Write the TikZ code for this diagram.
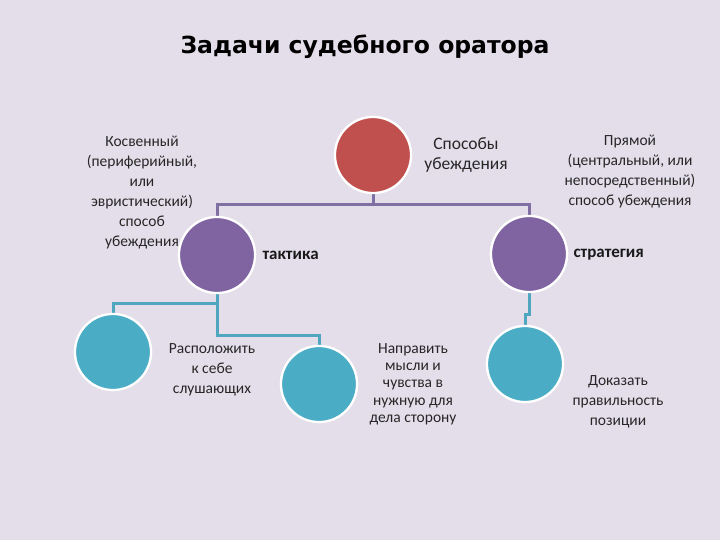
\documentclass[tikz,border=0pt]{standalone}
\usepackage{fontspec}
\setmainfont{Carlito}
\newfontfamily\titlefont{DejaVu Sans}
\definecolor{bgc}{HTML}{E4DEEA}
\definecolor{redc}{HTML}{C0504D}
\definecolor{purc}{HTML}{8064A2}
\definecolor{teac}{HTML}{4BACC6}
\definecolor{linep}{HTML}{7F6FA3}
\definecolor{linet}{HTML}{4FA6BF}
\begin{document}
\begin{tikzpicture}[x=1pt,y=-1pt,
  ball/.style={circle,draw=white,line width=2.2pt,minimum size=76pt,inner sep=0pt},
  conP/.style={draw=linep,line width=3pt},
  conT/.style={draw=linet,line width=3pt},
  txt/.style={align=center,font=\fontsize{15.5}{20}\selectfont,text=black!85},
  btxt/.style={font=\fontsize{17}{20}\selectfont\bfseries,text=black!90}]
\fill[bgc] (0,0) rectangle (720,540);
\useasboundingbox (0,0) rectangle (720,540);
\node[font=\titlefont\bfseries\fontsize{23.5}{28}\selectfont] (title) at (365,47) {Задачи судебного оратора};
% nodes
\node[ball,fill=redc] (r) at (373,155) {};
\node[ball,fill=purc] (tk) at (217,255) {};
\node[ball,fill=purc] (st) at (529,254) {};
\node[ball,fill=teac] (c1) at (113,352) {};
\node[ball,fill=teac] (c2) at (319,384) {};
\node[ball,fill=teac] (c3) at (525,364) {};
% connectors
\coordinate (j1) at (373,205);
\draw[conP] (r.south) -- (j1) -| (tk.north);
\draw[conP] (j1) -| (st.north);
\coordinate (j2) at (217,303);
\coordinate (j3) at (217,335);
\draw[conT] (tk.south) -- (j3) -| (c2.north);
\draw[conT] (j2) -| (c1.north);
\coordinate (j4) at (529,314);
\draw[conT] (st.south) -- (j4) -| (c3.north);
% redraw balls on top of lines
\node[ball,fill=redc] at (r) {};
\node[ball,fill=purc] at (tk) {};
\node[ball,fill=purc] at (st) {};
\node[ball,fill=teac] at (c1) {};
\node[ball,fill=teac] at (c2) {};
\node[ball,fill=teac] at (c3) {};
% texts
\node[txt] (t1) at (142,193) {Косвенный\\(периферийный,\\или\\эвристический)\\способ\\убеждения};
\node[btxt,anchor=west] (t2) at (259,255) {тактика};
\node[txt,font=\fontsize{17.5}{20}\selectfont] (t3) at (466,155) {Способы\\убеждения};
\node[txt] (t4) at (630,172) {Прямой\\(центральный, или\\непосредственный)\\способ убеждения};
\node[btxt,anchor=west] (t5) at (570,255) {стратегия};
\node[txt] (t6) at (212,370) {Расположить\\к себе\\слушающих};
\node[txt,font=\fontsize{15.5}{17.3}\selectfont] (t7) at (413,384) {Направить\\мысли и\\чувства в\\нужную для\\дела сторону};
\node[txt] (t8) at (618,402) {Доказать\\правильность\\позиции};
\end{tikzpicture}
\end{document}
